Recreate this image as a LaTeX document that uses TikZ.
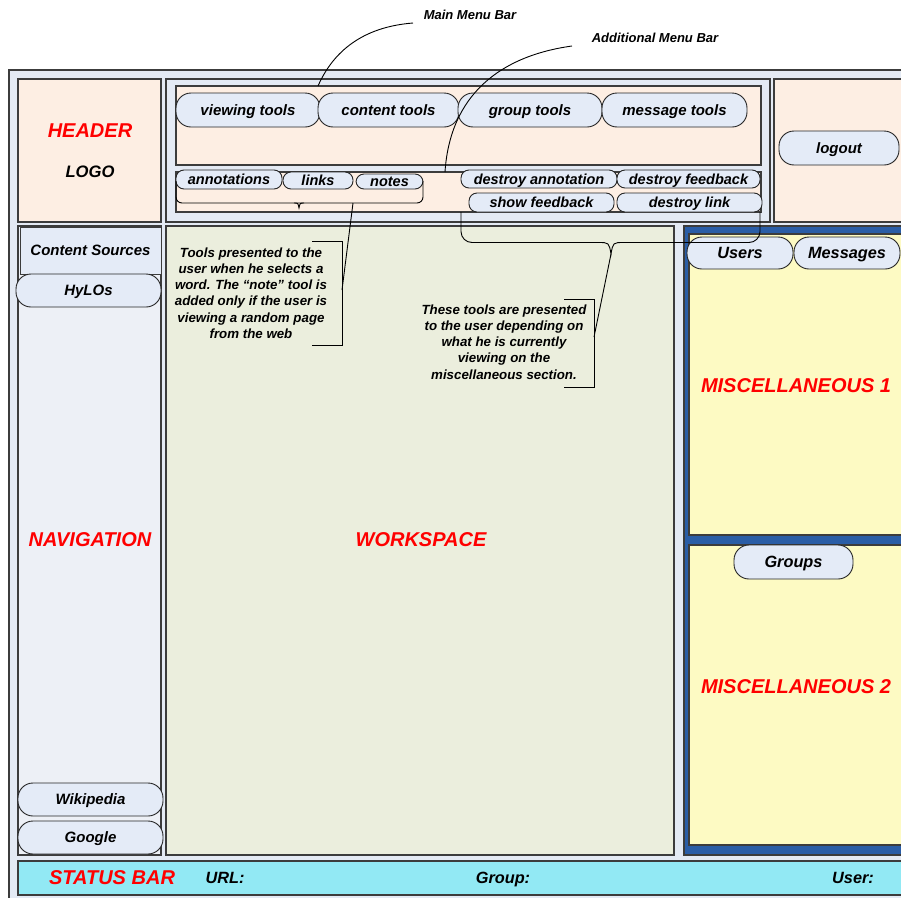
\documentclass[tikz,border=0pt]{standalone}
\usepackage{fontspec}
\setmainfont{Liberation Sans}
\definecolor{edge}{HTML}{3C3C3C}
\definecolor{uiblue}{HTML}{E4EAF4}
\definecolor{peach}{HTML}{FDEEE3}
\definecolor{pillblue}{HTML}{E4EBF7}
\definecolor{navfill}{HTML}{EDF0F6}
\definecolor{workfill}{HTML}{EBEEDD}
\definecolor{miscblue}{HTML}{2A5DA6}
\definecolor{miscyellow}{HTML}{FDFAC3}
\definecolor{statuscyan}{HTML}{92E9F4}
% \uibox{name}{style}{x1}{y1}{x2}{y2}{text}: a node spanning two corners
\newcommand\uibox[7]{\node[#2, minimum width={(#5-#3)*1pt}, minimum height={(#6-#4)*1pt}] (#1) at ({(#3+#5)/2},{(#4+#6)/2}) {#7};}
\begin{document}
\begin{tikzpicture}[x=1pt,y=-1pt,
  % text boxes get the cap height of their own size, so labels centre on their capitals
  sized/.style={font=\fontsize{#1}{#1}\selectfont\bfseries\itshape,text height={0.716*#1*1pt},text depth=0pt},
  panel/.style={draw=edge,line width=1.2pt,inner sep=0pt,outer sep=0pt},
  pill/.style={draw=black!85,line width=0.9pt,fill=pillblue,rounded corners=#1,inner sep=0pt,outer sep=0pt,sized=15},
  pill/.default=15pt,
  smallpill/.style={pill=8pt,sized=14.5},
  tabpill/.style={pill=15pt,sized=16.3},
  title/.style={text=red,inner sep=0pt,sized=20},
  label/.style={inner sep=0pt,sized=16.3},
  note/.style={inner sep=0pt,align=center,font=\fontsize{13.3}{16.2}\selectfont\bfseries\itshape},
  callout/.style={inner sep=0pt,sized=13},
  leader/.style={draw=black,line width=0.9pt}]
\useasboundingbox (0,0) rectangle (901,897);
\clip (0,0) rectangle (901,897);

% page frame
\uibox{page}{panel,fill=uiblue}{9}{70}{915}{910}{}

% header row
\uibox{header}{panel,fill=peach}{18}{79}{161}{222}{}
\node[title] (headertitle) at (90,130) {HEADER};
\node[label,sized=16.6] (logo) at (90,172) {LOGO};

\uibox{menuarea}{panel,fill=uiblue}{166}{79}{770}{222}{}
\uibox{mainbar}{panel,fill=peach}{176}{86}{761}{165}{}
\uibox{addbar}{panel,fill=peach}{176}{172}{761}{212}{}

\uibox{viewing}{pill}{176}{93}{320}{127}{viewing tools}
\uibox{content}{pill}{318}{93}{459}{127}{content tools}
\uibox{group}{pill}{458}{93}{602}{127}{group tools}
\uibox{message}{pill}{602}{93}{747}{127}{message tools}

\uibox{annotations}{smallpill}{176}{170}{282}{189}{annotations}
\uibox{links}{smallpill}{283}{172}{353}{189}{links}
\uibox{notes}{smallpill}{356}{174}{423}{189}{notes}
\uibox{destroyann}{smallpill}{461}{170}{617}{188}{destroy annotation}
\uibox{destroyfb}{smallpill}{617}{170}{760}{188}{destroy feedback}
\uibox{showfb}{smallpill}{469}{193}{614}{212}{show feedback}
\uibox{destroylink}{smallpill}{617}{193}{762}{212}{destroy link}

\uibox{logoutarea}{panel,fill=peach}{774}{79}{915}{222}{}
\uibox{logout}{pill}{779}{131}{899}{165}{logout}

% navigation column
\uibox{nav}{panel,fill=navfill}{18}{226}{161}{855}{}
\uibox{sources}{panel,line width=0.9pt,fill=pillblue,sized=15}{20}{227}{161}{274}{Content Sources}
\uibox{hylos}{pill}{16}{274}{161}{307}{HyLOs}
\uibox{wikipedia}{pill}{18}{783}{163}{816}{Wikipedia}
\uibox{google}{pill}{18}{821}{163}{854}{Google}
\node[title] (navtitle) at (90,539) {NAVIGATION};

% workspace
\uibox{workspace}{panel,fill=workfill}{166}{226}{674}{855}{}
\node[title] (worktitle) at (421,539) {WORKSPACE};

% miscellaneous column
\uibox{misc}{panel,fill=miscblue}{684}{226}{915}{855}{}
\uibox{misc1}{panel,fill=miscyellow}{689}{234}{915}{535}{}
\uibox{misc2}{panel,fill=miscyellow}{689}{545}{915}{845}{}
\uibox{users}{tabpill}{687}{237}{793}{269}{Users}
\uibox{messages}{tabpill}{794}{237}{900}{269}{Messages}
\uibox{groups}{tabpill}{734}{545}{853}{579}{Groups}
\node[title] (misc1title) at (796,385) {MISCELLANEOUS 1};
\node[title] (misc2title) at (796,686) {MISCELLANEOUS 2};

% status bar
\uibox{status}{panel,fill=statuscyan}{18}{861}{915}{895}{}
\node[title] (statustitle) at (112,877) {STATUS BAR};
\node[label] (url) at (225,878) {URL:};
\node[label] (grouplabel) at (503,878) {Group:};
\node[label] (userlabel) at (853,878) {User:};

% explanatory notes
\node[note] (note1) at (251,293) {Tools presented to the\\user when he selects a\\word. The “note” tool is\\added only if the user is\\viewing a random page\\from the web};
\node[note] (note2) at (504,342) {These tools are presented\\to the user depending on\\what he is currently\\viewing on the\\miscellaneous section.};

\node[callout] (mmblabel) at (470,15) {Main Menu Bar};
\node[callout] (amblabel) at (655,38) {Additional Menu Bar};

% connector anchor points
\coordinate (mmbfoot) at (413,23);
\coordinate (mmbtip) at (318,86);
\coordinate (ambfoot) at (572,46);
\coordinate (ambtip) at (445,172);
\coordinate (smallbrace) at (353,203);
\coordinate (note1mid) at (342,290);
\coordinate (bigtip) at (611,254);
\coordinate (note2mid) at (594,337);

% callout curves
\draw[leader] (mmbfoot) .. controls (362,27) and (333,52) .. (mmbtip);
\draw[leader] (ambfoot) .. controls (500,56) and (450,95) .. (ambtip);

% brace under the word tools
\draw[leader,rounded corners=6pt] (176,181) -- (176,203) -- (423,203) -- (423,181);
\draw[leader] (294,203) .. controls (298,203) .. (299,208) .. controls (300,203) .. (304,203);
\draw[leader] (smallbrace) -- (note1mid);
\draw[leader] (312,241) -- (342,241) -- (342,345) -- (312,345);

% brace under the context tools
\draw[leader,rounded corners=11pt] (461,212) -- (461,242.5) -- (599,242.5);
\draw[leader] (598,242.5) .. controls (609,242.5) .. (bigtip) .. controls (613,242.5) .. (624,242.5);
\draw[leader,rounded corners=11pt] (623,242.5) -- (760,242.5) -- (760,212);
\draw[leader] (bigtip) -- (note2mid);
\draw[leader] (564,299) -- (594,299) -- (594,387) -- (564,387);
\end{tikzpicture}
\end{document}
